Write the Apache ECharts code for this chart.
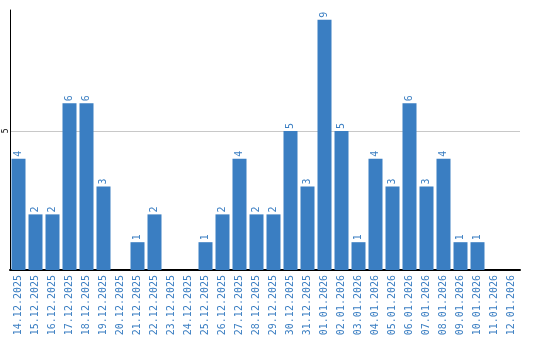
<!DOCTYPE html>
<html><head><meta charset="utf-8">
<script src="https://cdn.jsdelivr.net/npm/echarts@6/dist/echarts.min.js"></script>
<style>html,body{margin:0;padding:0;background:#fff}#c{width:540px;height:340px}</style>
</head><body><div id="c"></div>
<script>
const categories = ["14.12.2025","15.12.2025","16.12.2025","17.12.2025","18.12.2025","19.12.2025","20.12.2025","21.12.2025","22.12.2025","23.12.2025","24.12.2025","25.12.2025","26.12.2025","27.12.2025","28.12.2025","29.12.2025","30.12.2025","31.12.2025","01.01.2026","02.01.2026","03.01.2026","04.01.2026","05.01.2026","06.01.2026","07.01.2026","08.01.2026","09.01.2026","10.01.2026","11.01.2026","12.01.2026"];
const values = [4,2,2,6,6,3,0,1,2,0,0,1,2,4,2,2,5,3,9,5,1,4,3,6,3,4,1,1,0,0];
const yTicks = [5];
const chart = echarts.init(document.getElementById('c'));
chart.setOption({
  animation:false,
  grid:{left:10,top:10,width:510,height:260,containLabel:false},
  xAxis:{type:'category',data:categories,
    axisLine:{lineStyle:{color:'#000',width:2}},axisTick:{show:false},
    axisLabel:{rotate:90,interval:0,fontFamily:'DejaVu Sans Mono',fontSize:10,color:'#3a7ec2',margin:5}},
  yAxis:{type:'value',min:0,max:9.35,interval:5,
    axisLine:{show:true,lineStyle:{color:'#000',width:1}},axisTick:{show:false},
    splitLine:{showMinLine:false,showMaxLine:false,lineStyle:{color:'#c8c8c8'}},
    axisLabel:{rotate:90,align:'center',verticalAlign:'bottom',fontFamily:'DejaVu Sans Mono',fontSize:8,color:'#000',margin:0,
      formatter:v=>yTicks.includes(v)?String(v):''}},
  series:[{type:'bar',data:values,barWidth:14,itemStyle:{color:'#3a7ec2'},
    label:{show:true,position:'top',rotate:90,align:'left',verticalAlign:'middle',distance:2,
      fontFamily:'DejaVu Sans Mono',fontSize:10,color:'#3a7ec2',
      formatter:p=>p.value>0?String(p.value):''}}]
});
</script></body></html>
